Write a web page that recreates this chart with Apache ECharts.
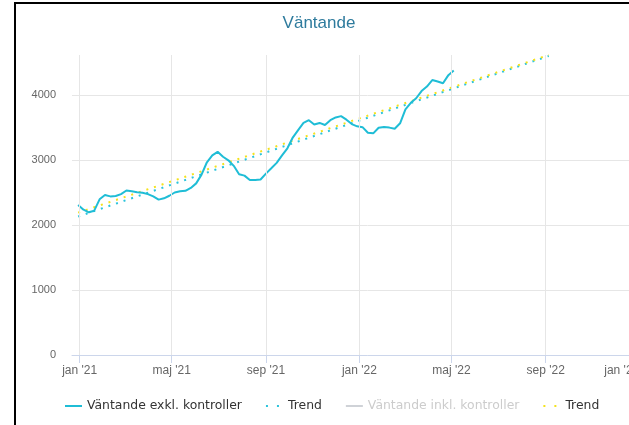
<!DOCTYPE html>
<html>
<head>
<meta charset="utf-8">
<title>Väntande</title>
<script src="https://cdn.jsdelivr.net/npm/echarts@6/dist/echarts.min.js"></script>
<style>
  html, body { margin: 0; padding: 0; background: #fff; overflow: hidden; width: 629px; height: 425px; }
  #chart { position: absolute; left: 0; top: 0; width: 680px; height: 425px; }
  #frame { position: absolute; left: 14px; top: 2px; width: 700px; height: 500px;
           border-left: 2px solid #000; border-top: 2px solid #000; pointer-events: none; }
</style>
</head>
<body>
<div id="chart"></div>
<div id="frame"></div>
<script>
// Weekly count of waiting cases, excluding controls (first week starts 2020-12-30)
const firstWeek = '2020-12-30';
const waitingExcl = [
  2308, 2235, 2195, 2220, 2395, 2460, 2440, 2445, 2475, 2530,
  2520, 2505, 2495, 2475, 2440, 2390, 2410, 2450, 2500, 2518,
  2525, 2570, 2640, 2775, 2965, 3070, 3125, 3050, 2995, 2910,
  2780, 2759, 2692, 2692, 2700, 2790, 2872, 2955, 3070, 3180,
  3345, 3460, 3570, 3612, 3545, 3570, 3538, 3612, 3655, 3675,
  3620, 3552, 3518, 3505, 3420, 3410, 3495, 3508, 3498, 3480,
  3564, 3780, 3880, 3950, 4060, 4130, 4230, 4208, 4180, 4305,
  4375
];
// Series including controls is toggled off in the legend
const waitingIncl = [];

// Linear trends: start and end points
const trendDates = ['2020-12-30', '2022-09-05'];
const trendExcl = [2130, 4600];
const trendIncl = [2190, 4615];

// Month ticks on the date axis
const tickDates = ['2021-01-01', '2021-05-01', '2021-09-01', '2022-01-01', '2022-05-01', '2022-09-01', '2023-01-01'];
const tickLabels = ["jan '21", "maj '21", "sep '21", "jan '22", "maj '22", "sep '22", "jan '23"];

function toTime(s) {
  const p = s.split('-').map(Number);
  return Date.UTC(p[0], p[1] - 1, p[2]);
}
const DAY = 24 * 3600 * 1000;
const start = toTime(firstWeek);
const exclData = waitingExcl.map((v, i) => [start + i * 7 * DAY, v]);
const tickTimes = tickDates.map(toTime);

const CYAN = '#1fbdd6';
const CYAN_DOT = '#2cc4dc';
const YELLOW = '#f4e21c';
const DOTTED_ICON = { type: [2, 9], width: 2 };

const chart = echarts.init(document.getElementById('chart'), null, { renderer: 'canvas' });
chart.setOption({
  animation: false,
  backgroundColor: '#fff',
  title: {
    text: 'Väntande',
    left: 314,
    textAlign: 'center',
    top: 10,
    textStyle: { fontFamily: 'Liberation Sans', fontSize: 17, fontWeight: 'normal', color: '#2e7b9d' }
  },
  legend: {
    left: 64,
    top: 400,
    padding: 0,
    itemWidth: 17,
    itemHeight: 10,
    itemGap: 23,
    itemStyle: { opacity: 0 },
    lineStyle: { width: 2 },
    textStyle: { fontFamily: 'DejaVu Sans', fontSize: 12.4, color: '#333' },
    inactiveColor: '#cccccc',
    formatter: name => name.indexOf('Trend') === 0 ? 'Trend' : name,
    selected: { 'Väntande inkl. kontroller': false },
    data: [
      { name: 'Väntande exkl. kontroller' },
      { name: 'Trend exkl.', lineStyle: DOTTED_ICON },
      { name: 'Väntande inkl. kontroller' },
      { name: 'Trend inkl.', lineStyle: DOTTED_ICON }
    ]
  },
  grid: { left: 72, right: 17, top: 55, bottom: 70 },
  xAxis: {
    type: 'value',
    min: toTime('2020-12-22'),
    max: toTime('2023-02-01'),
    axisLine: { lineStyle: { color: '#ccd6eb' } },
    axisTick: { show: true, customValues: tickTimes, length: 8, lineStyle: { color: '#ccd6eb' } },
    axisLabel: {
      customValues: tickTimes,
      color: '#666',
      fontFamily: 'Liberation Sans',
      fontSize: 12,
      margin: 10,
      alignMaxLabel: 'right',
      formatter: v => {
        const i = tickTimes.indexOf(v);
        return i >= 0 ? tickLabels[i] : '';
      }
    },
    splitLine: { show: false }
  },
  yAxis: {
    type: 'value',
    min: 0,
    max: 'dataMax',
    interval: 1000,
    axisLine: { show: false },
    axisTick: { show: false },
    axisLabel: {
      color: '#666', fontFamily: 'Liberation Sans', fontSize: 11, margin: 16, showMaxLabel: false,
      formatter: v => String(v)
    },
    splitLine: { show: true, showMaxLine: false, lineStyle: { color: '#e6e6e6' } }
  },
  series: [
    {
      // vertical grid lines at the month ticks
      type: 'line',
      silent: true,
      data: [],
      z: 0,
      markLine: {
        silent: true,
        symbol: 'none',
        label: { show: false },
        lineStyle: { color: '#e6e6e6', width: 1, type: 'solid' },
        data: tickTimes.map(t => ({ xAxis: t }))
      }
    },
    {
      name: 'Väntande exkl. kontroller',
      type: 'line',
      data: exclData,
      showSymbol: false,
      symbol: 'none',
      color: CYAN,
      lineStyle: { width: 2, color: CYAN },
      z: 3
    },
    {
      name: 'Trend exkl.',
      type: 'line',
      data: trendDates.map((d, i) => [toTime(d), trendExcl[i]]),
      symbol: 'none',
      color: CYAN_DOT,
      lineStyle: { width: 2, color: CYAN_DOT, type: [2, 6] },
      z: 2
    },
    {
      name: 'Väntande inkl. kontroller',
      type: 'line',
      data: waitingIncl,
      symbol: 'none',
      color: '#cccccc',
      lineStyle: { width: 2 }
    },
    {
      name: 'Trend inkl.',
      type: 'line',
      data: trendDates.map((d, i) => [toTime(d), trendIncl[i]]),
      symbol: 'none',
      color: YELLOW,
      lineStyle: { width: 2, color: YELLOW, type: [2, 6] },
      z: 2
    }
  ]
});
</script>
</body>
</html>
